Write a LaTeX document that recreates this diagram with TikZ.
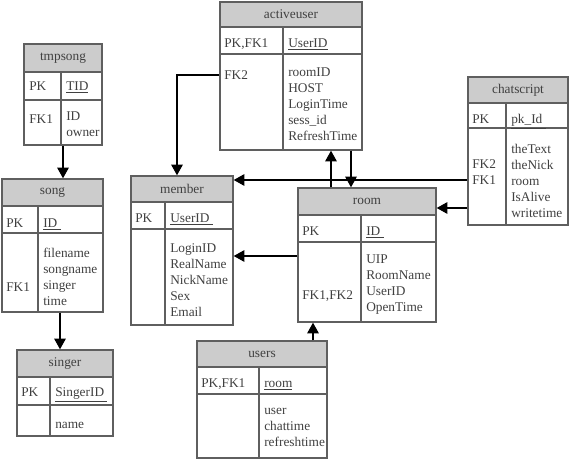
\documentclass[tikz,border=0pt]{standalone}
\usepackage{fontspec}
\setmainfont{Liberation Serif}
\usetikzlibrary{arrows.meta,positioning,fit,calc}
\definecolor{hdrgray}{RGB}{204,204,204}
\definecolor{edgegray}{RGB}{95,95,95}
\definecolor{ink}{RGB}{64,64,64}
\newcommand{\erfont}{\fontsize{10}{12}\selectfont}
% table frame: name, x0, y0, x1, y1, header bottom, key row bottom, column rule, title
\newcommand{\ertable}[9]{%
  \node[tblbox, fit={(#2,#3) (#4,#5)}] (#1) {};
  \node[tblhdr, fit={(#2,#3) (#4,#6)}] (#1-h) {};
  \node[tbltitle] (#1-t) at (#1-h.center) {#9};
  \draw[tblrule] (#2,#7) -- (#4,#7) (#8,#6) -- (#8,#5);
}
\tikzset{
  tblbox/.style={draw=edgegray, line width=1pt, inner sep=0pt},
  tblhdr/.style={draw=edgegray, fill=hdrgray, line width=1pt, inner sep=0pt},
  tbltitle/.style={font=\erfont, text=ink, inner sep=0pt},
  tblrule/.style={draw=edgegray, line width=1pt},
  fld/.style={font=\erfont, text=ink, inner sep=0pt, anchor=north west, align=left,
    execute at begin node=\strut},
  fk/.style={-{Triangle[length=8pt, width=8.5pt]}, line width=1.4pt, color=black}
}

\begin{document}
\begin{tikzpicture}[x=0.75pt, y=-0.75pt]
\useasboundingbox (0,0) rectangle (569,459);

% ---------------- tmpsong ----------------
\ertable{tmpsong}{24}{44}{102}{145}{72}{100}{61}{tmpsong}
\node[fld] (tmpsong-pk) at (29,79) {PK};
\node[fld] (tmpsong-id) at (66,79) {\underline{TID}};
\node[fld] (tmpsong-fk) at (29,112) {FK1};
\node[fld] (tmpsong-f) at (66,112) {ID\\owner};

% ---------------- song ----------------
\ertable{song}{2}{179}{103}{312}{206}{233}{38}{song}
\node[fld] (song-pk) at (6,216) {PK};
\node[fld] (song-id) at (43,216) {\underline{ID~}};
\node[fld] (song-fk) at (6,280) {FK1};
\node[fld] (song-f) at (43,248) {filename\\songname\\singer\\time};

% ---------------- singer ----------------
\ertable{singer}{17}{350}{113}{436}{377}{405}{50}{singer}
\node[fld] (singer-pk) at (21,385) {PK};
\node[fld] (singer-id) at (55,385) {\underline{SingerID~}};
\node[fld] (singer-f) at (55,417) {name};

% ---------------- activeuser ----------------
\ertable{activeuser}{220}{2}{362}{150}{27}{54}{283}{activeuser}
\node[fld] (au-pk) at (224,36) {PK,FK1};
\node[fld] (au-id) at (288,36) {\underline{UserID}};
\node[fld] (au-fk) at (224,68) {FK2};
\node[fld] (au-f) at (288,68) {roomID\\HOST\\LoginTime\\sess\_id\\RefreshTime};

% ---------------- member ----------------
\ertable{member}{131}{176}{233}{325}{202}{229}{165}{member}
\node[fld] (member-pk) at (135,211) {PK};
\node[fld] (member-id) at (170,211) {\underline{UserID~}};
\node[fld] (member-f) at (170,243) {LoginID\\RealName\\NickName\\Sex\\Email};

% ---------------- room ----------------
\ertable{room}{298}{188}{436}{322}{215}{242}{361}{room}
\node[fld] (room-pk) at (302,224) {PK};
\node[fld] (room-id) at (366,224) {\underline{ID~}};
\node[fld] (room-fk) at (302,288) {FK1,FK2};
\node[fld] (room-f) at (366,255) {UIP\\RoomName\\UserID\\OpenTime};

% ---------------- users ----------------
\ertable{users}{197}{341}{327}{458}{367}{394}{259}{users}
\node[fld] (users-pk) at (201,376) {PK,FK1};
\node[fld] (users-id) at (264,376) {\underline{room}};
\node[fld] (users-f) at (264,408) {user\\chattime\\refreshtime};

% ---------------- chatscript ----------------
\ertable{chatscript}{468}{77}{568}{225}{103}{128}{506}{chatscript}
\node[fld] (cs-pk) at (472,112) {PK};
\node[fld] (cs-id) at (511,112) {\underline{pk\_Id~}};
\node[fld] (cs-fk) at (472,159) {FK2\\FK1};
\node[fld] (cs-f) at (511,144) {theText\\theNick\\room\\IsAlive\\writetime};

% ---------------- relations ----------------
\coordinate (au-fk2) at (220,75);
\coordinate (au-dn) at (351,170);
\coordinate (au-up) at (331,170);
\coordinate (cs-m) at (450,180);
\coordinate (cs-r) at (450,208);
\coordinate (rm-m) at (265,256);
\coordinate (ur) at (313,330);
\coordinate (ss) at (60,330);

\draw[fk] (tmpsong.south) -- (tmpsong.south |- song.north);
\draw[fk] (ss |- song.south) -- (ss |- singer.north);
\draw[fk] (activeuser.west |- au-fk2) -| ($(member.north)+(-5,0)$);
\draw[fk] (au-dn |- activeuser.south) -- (au-dn |- room.north);
\draw[fk] (au-up |- room.north) -- (au-up |- activeuser.south);
\draw[fk] (chatscript.west |- cs-m) -- (member.east |- cs-m);
\draw[fk] (chatscript.west |- cs-r) -- (room.east |- cs-r);
\draw[fk] (room.west |- rm-m) -- (member.east |- rm-m);
\draw[fk] (ur |- users.north) -- (ur |- room.south);

\end{tikzpicture}
\end{document}
